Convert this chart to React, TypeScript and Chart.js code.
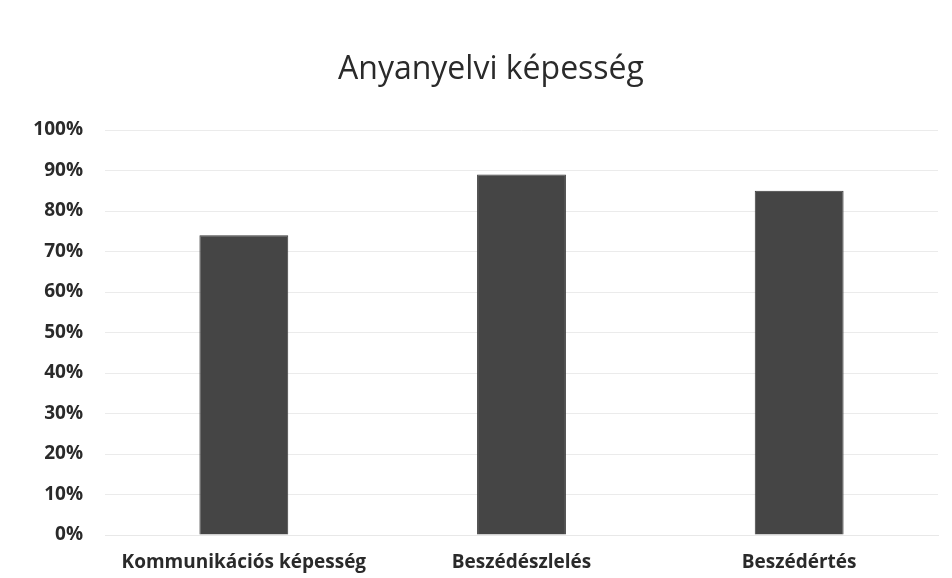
import React, { useEffect, useRef } from "react";
import { Chart, registerables } from "chart.js";

Chart.register(...registerables);

const categories = ["Kommunikációs képesség", "Beszédészlelés", "Beszédértés"];
const values = [0.74, 0.89, 0.85];
const chartTitle = "Anyanyelvi képesség";

const titlePlugin = {
  id: "customTitle",
  afterDraw(chart: any) {
    const c = chart.ctx;
    c.save();
    c.font = "normal 32px 'Open Sans'";
    c.fillStyle = "#2a2a2a";
    c.textAlign = "center";
    c.textBaseline = "middle";
    c.fillText(chartTitle, 491, 70);
    c.restore();
  },
};

export default function App() {
  const ref = useRef<HTMLCanvasElement>(null);
  useEffect(() => {
    document.body.style.margin = "0";
    const ctx = ref.current!;
    const chart = new Chart(ctx, {
      type: "bar",
      data: {
        labels: categories,
        datasets: [
          {
            data: values,
            backgroundColor: "#454545",
            borderColor: "#3a3a3a",
            borderWidth: 1,
            barPercentage: 0.32,
            categoryPercentage: 1,
          },
        ],
      },
      plugins: [titlePlugin],
      options: {
        animation: false,
        responsive: false,
        maintainAspectRatio: false,
        layout: { padding: { left: 10, right: 14, top: 130, bottom: 4 } },
        plugins: {
          legend: { display: false },
          tooltip: { enabled: false },
          title: { display: false },
        },
        scales: {
          x: {
            afterFit: (s: any) => {
              s.height = 39;
            },
            grid: { display: false, drawTicks: false },
            border: { display: true, color: "#e8e8e8" },
            ticks: {
              color: "#2a2a2a",
              font: { family: "Open Sans", size: 19, weight: "bold" },
              padding: 16,
              maxRotation: 0,
              autoSkip: false,
            },
          },
          y: {
            min: 0,
            max: 1,
            afterFit: (s: any) => {
              s.width = 95;
            },
            grid: { color: "#ebebeb", drawTicks: false },
            border: { display: false },
            ticks: {
              stepSize: 0.1,
              padding: 22,
              color: "#2a2a2a",
              font: { family: "Open Sans", size: 19, weight: "bold" },
              callback: (v: any) => Math.round(Number(v) * 100) + "%",
            },
          },
        },
      },
    });
    return () => chart.destroy();
  }, []);
  return (
    <div style={{ position: "absolute", left: 0, top: 0, width: 952, height: 578, background: "#fff" }}>
      <canvas ref={ref} width={952} height={578} style={{ width: 952, height: 578 }} />
    </div>
  );
}
